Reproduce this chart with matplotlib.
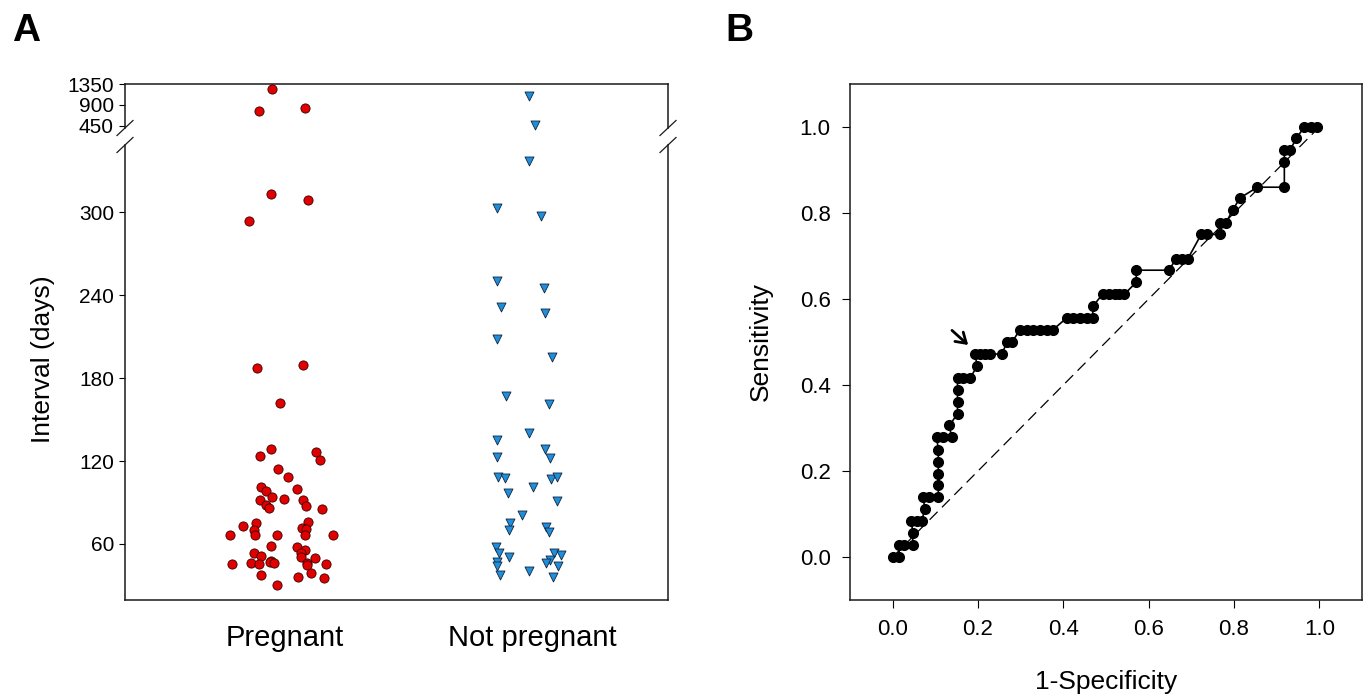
import matplotlib
matplotlib.use("Agg")
import matplotlib.pyplot as plt
from matplotlib.lines import Line2D

plt.rcParams['font.family'] = ['Liberation Sans', 'DejaVu Sans']

# --- Panel A: interval (days) per group, with strip offsets ---
groups = ["Pregnant", "Not pregnant"]

preg_days = [1250, 763, 830,
             313, 309, 293.5, 187, 189.5, 162,
             128.5, 123.6, 126.5, 120.5, 114.5, 108.4, 101.4, 98.3, 99.5, 94.2,
             91.6, 92.5, 91.6, 88.4, 86.3, 87.5, 85.3,
             73.2, 75.4, 70.3, 75.7, 71.3, 70.6,
             66.5, 66.5, 66.5, 66.5, 66.5,
             58.6, 57.6, 55.7, 53.3, 53.3, 51.3, 50.8, 49.7,
             47.9, 47.2, 46.3, 45.5, 46.5, 45.5, 46.5, 45.0, 45.5,
             37.4, 36.4, 39.2, 35.4, 30.4]
preg_jit = [-0.053, -0.105, 0.081,
            -0.057, 0.093, -0.146, -0.113, 0.073, -0.020,
            -0.055, -0.101, 0.126, 0.142, -0.028, 0.012, -0.097, -0.077, 0.047, -0.053,
            -0.101, -0.004, 0.073, -0.077, -0.065, 0.085, 0.148,
            -0.170, -0.119, -0.126, 0.093, 0.069, 0.087,
            -0.221, -0.121, -0.032, 0.081, 0.193,
            -0.058, 0.047, 0.080, 0.064, -0.126, -0.097, 0.065, 0.121,
            -0.055, -0.062, -0.045, -0.215, -0.136, -0.105, 0.089, 0.090, 0.165,
            -0.099, 0.053, 0.104, 0.158, -0.032]

notpreg_days = [1083, 463, 337,
                303, 297, 250, 245, 231, 226.8, 208, 195, 167, 161,
                140, 135.2, 128.9, 123.1, 122, 108.7, 108, 106.8, 108.7, 101, 97.1, 91.1,
                81, 75, 70.1, 72.5, 68.9,
                58, 53.3, 50.4, 53.3, 52, 48.4, 46, 47.2, 44.1, 44.1, 40.7, 37.4, 36]
notpreg_jit = [-0.010, 0.012, -0.010,
               -0.142, 0.036, -0.142, 0.049, -0.126, 0.053, -0.142, 0.080, -0.106, 0.069,
               -0.011, -0.142, 0.053, -0.143, 0.074, -0.138, -0.110, 0.079, 0.100, 0.004, -0.096, 0.101,
               -0.040, -0.089, -0.091, 0.057, 0.069,
               -0.146, -0.134, -0.093, 0.089, 0.117, 0.074, 0.057, -0.140, -0.143, 0.105, -0.013, -0.130, 0.086]

low_ticks = [60, 120, 180, 240, 300]
high_ticks = [450, 900, 1350]
low_lim = (19.5, 348.5)
high_lim = (407, 1350)

# --- Panel B: ROC curve ---
roc_fpr = [0.000, 0.016, 0.014, 0.026, 0.047, 0.047, 0.044, 0.056, 0.068, 0.075,
           0.072, 0.086, 0.107, 0.107, 0.107, 0.107, 0.107, 0.103, 0.119, 0.138,
           0.133, 0.152, 0.152, 0.152, 0.152, 0.166, 0.182, 0.198, 0.193, 0.205,
           0.217, 0.228, 0.256, 0.268, 0.280, 0.298, 0.315, 0.329, 0.345, 0.361,
           0.375, 0.408, 0.422, 0.438, 0.455, 0.469, 0.469, 0.492, 0.508, 0.520,
           0.531, 0.543, 0.571, 0.571, 0.648, 0.664, 0.678, 0.692, 0.723, 0.737,
           0.767, 0.767, 0.781, 0.797, 0.814, 0.855, 0.918, 0.918, 0.918, 0.932,
           0.946, 0.965, 0.981, 0.995]
roc_sens = [0.000, 0.000, 0.028, 0.028, 0.028, 0.056, 0.083, 0.083, 0.083, 0.111,
            0.139, 0.139, 0.139, 0.167, 0.194, 0.222, 0.250, 0.278, 0.278, 0.278,
            0.306, 0.333, 0.361, 0.389, 0.417, 0.417, 0.417, 0.444, 0.472, 0.472,
            0.472, 0.472, 0.472, 0.500, 0.500, 0.528, 0.528, 0.528, 0.528, 0.528,
            0.528, 0.556, 0.556, 0.556, 0.556, 0.556, 0.583, 0.611, 0.611, 0.611,
            0.611, 0.611, 0.639, 0.667, 0.667, 0.694, 0.694, 0.694, 0.750, 0.750,
            0.750, 0.777, 0.777, 0.807, 0.835, 0.860, 0.860, 0.919, 0.947, 0.947,
            0.974, 1.000, 1.000, 1.000]
cut_point = (0.177, 0.493)   # arrow tip (chosen cut-off)
roc_ticks = [0.0, 0.2, 0.4, 0.6, 0.8, 1.0]

W, H = 1364, 696
fig = plt.figure(figsize=(W / 100, H / 100), dpi=100)


def box(l, t, r, b):
    # pixel box -> figure fraction
    return [l / W, 1 - b / H, (r - l) / W, (b - t) / H]


ax_hi = fig.add_axes(box(125, 84, 668, 128))
ax_lo = fig.add_axes(box(125, 145, 668, 600))
ax_roc = fig.add_axes(box(850, 84, 1362, 600))

spine_col = '#1a1a1a'

# --- A: broken-axis strip plot ---
for ax, (lo, hi) in ((ax_hi, high_lim), (ax_lo, low_lim)):
    pp = [(1 + j, d) for j, d in zip(preg_jit, preg_days) if lo <= d <= hi]
    nn = [(2 + j, d) for j, d in zip(notpreg_jit, notpreg_days) if lo <= d <= hi]
    ax.scatter(*zip(*pp), s=44, marker='o', color='#e00000',
               edgecolors='#3a0000', linewidths=0.6, zorder=3, clip_on=False)
    ax.scatter(*zip(*nn), s=42, marker='v', color='#1f8fdc',
               edgecolors='#10253d', linewidths=0.6, zorder=3, clip_on=False)
    ax.set_xlim(0.352, 2.551)
    ax.set_ylim(lo, hi)
    for s in ax.spines.values():
        s.set_linewidth(1.1)
        s.set_color(spine_col)
    ax.tick_params(axis='y', direction='out', length=4, width=0.8, labelsize=15, pad=4)

ax_hi.set_yticks(high_ticks)
ax_hi.spines['bottom'].set_visible(False)
ax_hi.tick_params(axis='x', bottom=False, labelbottom=False)

ax_lo.set_yticks(low_ticks)
ax_lo.spines['top'].set_visible(False)
ax_lo.set_xticks([1, 2])
ax_lo.set_xticklabels(groups)
ax_lo.tick_params(axis='x', length=0, labelsize=21, pad=17)
ax_lo.set_ylabel('Interval (days)', fontsize=19)
ax_lo.yaxis.set_label_coords(-0.128, 0.53)

# break marks on both vertical spines
for xpx in (125, 668):
    for ypx in (128, 145):
        fig.add_artist(Line2D([(xpx - 8) / W, (xpx + 8) / W],
                              [1 - (ypx + 7.5) / H, 1 - (ypx - 7.5) / H],
                              color=spine_col, lw=0.9))

# --- B: ROC curve ---
ax_roc.plot([0, 1], [0, 1], color='k', lw=0.9, ls=(0, (9, 5)))
ax_roc.plot(roc_fpr, roc_sens, '-o', color='k', lw=1.2, ms=7)
ax_roc.annotate('', xy=cut_point, xytext=(cut_point[0] - 0.038, cut_point[1] + 0.034),
                arrowprops=dict(arrowstyle='->,head_length=0.7,head_width=0.45',
                                lw=2.0, color='k', shrinkA=0, shrinkB=0))
ax_roc.set_xlim(-0.1, 1.1)
ax_roc.set_ylim(-0.1, 1.1)
ax_roc.set_xticks(roc_ticks)
ax_roc.set_yticks(roc_ticks)
ax_roc.xaxis.set_major_formatter(plt.FormatStrFormatter('%.1f'))
ax_roc.yaxis.set_major_formatter(plt.FormatStrFormatter('%.1f'))
ax_roc.tick_params(direction='out', length=6, width=0.8, labelsize=16, pad=8)
for s in ax_roc.spines.values():
    s.set_linewidth(1.1)
    s.set_color(spine_col)
ax_roc.set_xlabel('1-Specificity', fontsize=19)
ax_roc.set_ylabel('Sensitivity', fontsize=19)
ax_roc.xaxis.set_label_coords(0.5, -0.135)
ax_roc.yaxis.set_label_coords(-0.150, 0.5)

# panel letters
fig.text(12 / W, 1 - 31 / H, 'A', fontsize=28, fontweight='bold', va='center', ha='left')
fig.text(725 / W, 1 - 31 / H, 'B', fontsize=28, fontweight='bold', va='center', ha='left')

fig.savefig('out.png', dpi=100)
